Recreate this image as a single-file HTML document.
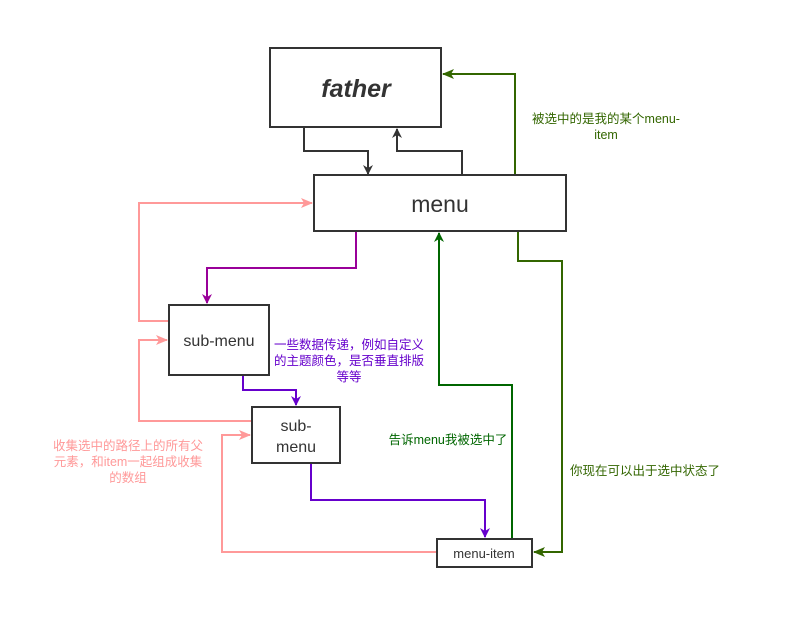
<!DOCTYPE html>
<html><head><meta charset="utf-8"><style>
html,body{margin:0;padding:0;background:#fff;}
svg{display:block;}
text{font-family:"Liberation Sans","Noto Sans CJK SC",sans-serif;}
</style></head><body>
<svg width="788" height="629" viewBox="0 0 788 629" xmlns="http://www.w3.org/2000/svg">
<defs>
<marker id="aK" markerWidth="10" markerHeight="10" refX="9" refY="5" orient="auto" markerUnits="userSpaceOnUse"><path d="M0,0 L10,5 L0,10 L3,5 z" fill="#333"/></marker>
<marker id="aP" markerWidth="12" markerHeight="10" refX="11" refY="5" orient="auto" markerUnits="userSpaceOnUse"><path d="M0,0 L12,5 L0,10 L3,5 z" fill="#ff9999"/></marker>
<marker id="aM" markerWidth="10" markerHeight="10" refX="9" refY="5" orient="auto" markerUnits="userSpaceOnUse"><path d="M0,0 L10,5 L0,10 L3,5 z" fill="#990099"/></marker>
<marker id="aV" markerWidth="10" markerHeight="10" refX="9" refY="5" orient="auto" markerUnits="userSpaceOnUse"><path d="M0,0 L10,5 L0,10 L3,5 z" fill="#6600cc"/></marker>
<marker id="aG" markerWidth="10" markerHeight="10" refX="9" refY="5" orient="auto" markerUnits="userSpaceOnUse"><path d="M0,0 L10,5 L0,10 L3,5 z" fill="#006600"/></marker>
<marker id="aO" markerWidth="12" markerHeight="10" refX="11" refY="5" orient="auto" markerUnits="userSpaceOnUse"><path d="M0,0 L12,5 L0,10 L3,5 z" fill="#336600"/></marker>
</defs>
<g fill="none" stroke-width="2">
<path d="M304,128 V151 H368 V174" stroke="#333" marker-end="url(#aK)"/>
<path d="M462,174 V151 H397 V129" stroke="#333" marker-end="url(#aK)"/>
<path d="M515,174 V74 H443" stroke="#336600" marker-end="url(#aO)"/>
<path d="M169,321 H139 V203 H312" stroke="#ff9999" marker-end="url(#aP)"/>
<path d="M252,421 H139 V340 H167" stroke="#ff9999" marker-end="url(#aP)"/>
<path d="M437,552 H222 V435 H250" stroke="#ff9999" marker-end="url(#aP)"/>
<path d="M356,232 V268 H207 V303" stroke="#990099" marker-end="url(#aM)"/>
<path d="M243,376 V390 H296 V405" stroke="#6600cc" marker-end="url(#aV)"/>
<path d="M311,464 V500 H485 V537" stroke="#6600cc" marker-end="url(#aV)"/>
<path d="M512,538 V385 H439 V233" stroke="#006600" marker-end="url(#aG)"/>
<path d="M518,232 V261 H562 V552 H534" stroke="#336600" marker-end="url(#aO)"/>
</g>
<g fill="#fff" stroke="#333" stroke-width="2">
<rect x="270" y="48" width="171" height="79"/>
<rect x="314" y="175" width="252" height="56"/>
<rect x="169" y="305" width="100" height="70"/>
<rect x="252" y="407" width="88" height="56"/>
<rect x="437" y="539" width="95" height="28"/>
</g>
<g fill="#333" text-anchor="middle">
<text x="356" y="97" font-size="25" font-style="italic" font-weight="bold">father</text>
<text x="440" y="212" font-size="23">menu</text>
<text x="219" y="346" font-size="16">sub-menu</text>
<text x="296" y="431" font-size="16">sub-</text>
<text x="296" y="452" font-size="16">menu</text>
<text x="484" y="558" font-size="13">menu-item</text>
</g>
<g font-size="12.5" text-anchor="middle">
<text x="606" y="123" fill="#336600">被选中的是我的某个menu-</text>
<text x="606" y="139" fill="#336600">item</text>
<text x="349" y="349" fill="#6600cc">一些数据传递，例如自定义</text>
<text x="349" y="365" fill="#6600cc">的主题颜色，是否垂直排版</text>
<text x="349" y="381" fill="#6600cc">等等</text>
<text x="128" y="450" fill="#ff9999">收集选中的路径上的所有父</text>
<text x="128" y="466" fill="#ff9999">元素，和item一起组成收集</text>
<text x="128" y="482" fill="#ff9999">的数组</text>
<text x="448" y="444" fill="#006600">告诉menu我被选中了</text>
<text x="645" y="475" fill="#336600">你现在可以出于选中状态了</text>
</g>
</svg>
</body></html>
